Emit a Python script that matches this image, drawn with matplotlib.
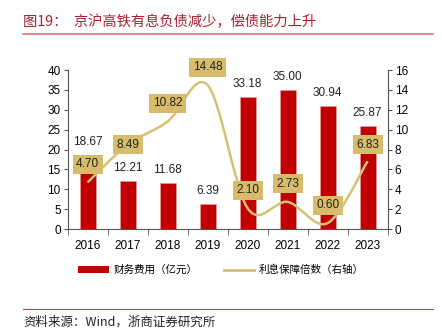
import numpy as np
import matplotlib.pyplot as plt
from matplotlib.path import Path
from matplotlib.patches import PathPatch, Patch
from matplotlib.lines import Line2D

plt.rcParams['font.family'] = ['Liberation Sans', 'Noto Sans CJK SC', 'DejaVu Sans']

years = ['2016', '2017', '2018', '2019', '2020', '2021', '2022', '2023']
finance_cost = [18.67, 12.21, 11.68, 6.39, 33.18, 35.00, 30.94, 25.87]
coverage = [4.70, 8.49, 10.82, 14.48, 2.10, 2.73, 0.60, 6.83]

BAR_RED = '#C00000'
TAN = '#D9BF72'
BOX = '#D7BC6B'
TITLE_RED = '#A8202F'


def smooth_path(xs, ys):
    # Excel-like smoothed line: cubic bezier segments through each point
    pts = list(zip(xs, ys))
    verts = [pts[0]]
    codes = [Path.MOVETO]
    n = len(pts)
    for i in range(n - 1):
        p0 = pts[i - 1] if i > 0 else pts[i]
        p1, p2 = pts[i], pts[i + 1]
        p3 = pts[i + 2] if i + 2 < n else pts[i + 1]
        c1 = (p1[0] + (p2[0] - p0[0]) / 6, p1[1] + (p2[1] - p0[1]) / 6)
        c2 = (p2[0] - (p3[0] - p1[0]) / 6, p2[1] - (p3[1] - p1[1]) / 6)
        verts += [c1, c2, p2]
        codes += [Path.CURVE4] * 3
    return Path(verts, codes)


fig = plt.figure(figsize=(4.42, 3.32), dpi=100)
ax = fig.add_axes([0.153, 0.310, 0.724, 0.479])
x = np.arange(len(years))

ax.bar(x, finance_cost, width=0.4, color=BAR_RED, edgecolor='#E8A0A0', linewidth=0.4, zorder=2)
for xi, v in zip(x, finance_cost):
    ax.annotate(f'{v:.2f}', (xi, v), xytext=(0, 5), textcoords='offset points',
                ha='center', va='bottom', fontsize=8.5, color='#222222')

ax.set_xlim(-0.5, 7.5)
ax.set_ylim(0, 40)
ax.set_yticks(range(0, 41, 5))
ax.set_xticks(x)
ax.set_xticklabels(years)
ax.set_xticks(np.arange(-0.5, 8, 1), minor=True)
ax.tick_params(axis='x', which='major', length=0, pad=8, labelsize=8.5)
ax.tick_params(axis='x', which='minor', length=4, color='#555555', direction='out')
ax.tick_params(axis='y', length=3, color='#555555', labelsize=8.5, pad=2)
ax.spines['top'].set_visible(False)
ax.spines['right'].set_visible(False)
for s in ('left', 'bottom'):
    ax.spines[s].set_color('#555555')
    ax.spines[s].set_linewidth(0.8)

ax2 = ax.twinx()
ax2.set_ylim(0, 16)
ax2.set_yticks(range(0, 17, 2))
ax2.tick_params(axis='y', length=3, color='#555555', labelsize=8.5, pad=2)
for s in ('top', 'left', 'bottom'):
    ax2.spines[s].set_visible(False)
ax2.spines['right'].set_color('#555555')
ax2.spines['right'].set_linewidth(0.8)

ax2.add_patch(PathPatch(smooth_path(x, coverage), facecolor='none', edgecolor=TAN,
                        linewidth=1.8, zorder=3))
offsets = [13, 0, 13, 13, 13, 13, 13, 12]
for xi, v, off in zip(x, coverage, offsets):
    ax2.annotate(f'{v:.2f}', (xi, v), xytext=(0, off), textcoords='offset points',
                 ha='center', va='center', fontsize=8.5, color='#222222', zorder=5,
                 bbox=dict(boxstyle='square,pad=0.3', facecolor=BOX, edgecolor='none'))

# title and rules
fig.text(0.052, 0.934, '图19：  京沪高铁有息负债减少，偿债能力上升', fontsize=10.3,
         color=TITLE_RED, va='center', ha='left', family=['Noto Sans CJK SC'])
fig.add_artist(Line2D([0.052, 0.98], [0.897, 0.897], color='#E0707A', linewidth=1.2))
fig.add_artist(Line2D([0.052, 0.98], [0.07, 0.07], color='#D04050', linewidth=0.8))
fig.text(0.052, 0.030, '资料来源：Wind，浙商证券研究所', fontsize=9, color='#222222',
         va='center', ha='left', family=['Noto Sans CJK SC', 'DejaVu Sans'])

handles = [Patch(facecolor=BAR_RED, edgecolor='none'),
           Line2D([], [], color=TAN, linewidth=2)]
fig.legend(handles, ['财务费用（亿元）', '利息保障倍数（右轴）'], loc='center',
           bbox_to_anchor=(0.5, 0.187), ncol=2, frameon=False,
           handlelength=2.9, handleheight=0.6, columnspacing=2.5, handletextpad=0.4,
           prop={'family': ['Noto Sans CJK SC'], 'size': 7.6})

fig.savefig('out.png', dpi=100)
